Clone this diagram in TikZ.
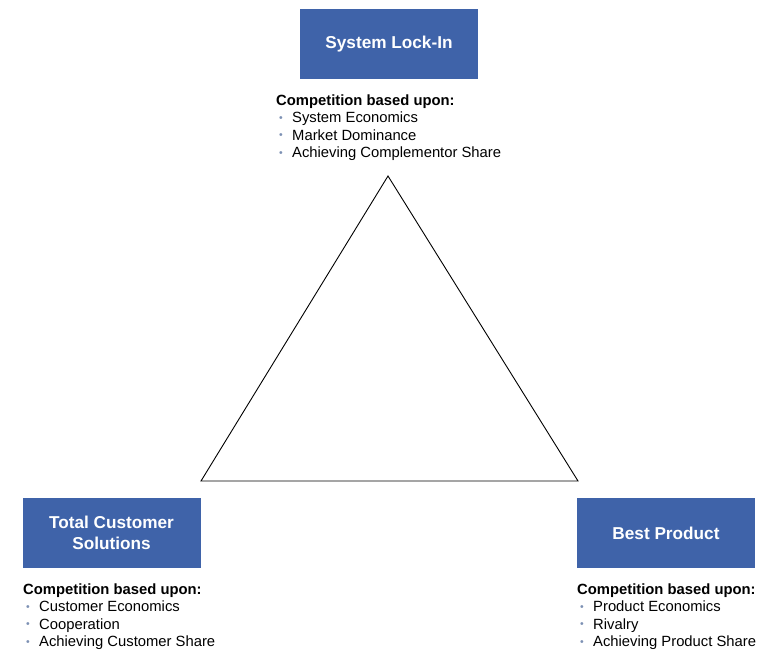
\documentclass[tikz,border=0pt]{standalone}
\usepackage{fontspec}
\setmainfont{Liberation Sans}
\usepackage{xcolor}
\definecolor{boxblue}{RGB}{63,99,169}
\definecolor{bulletc}{RGB}{125,145,180}
\begin{document}
\begin{tikzpicture}[x=1pt,y=-1pt,
  catbox/.style={fill=boxblue, draw=none, minimum width=178pt, minimum height=70pt, inner sep=0pt,
    text=white, font=\fontsize{17.2}{21}\selectfont\bfseries, align=center},
  headline/.style={anchor=base west, inner sep=0pt, font=\fontsize{14.8}{17}\selectfont\bfseries},
  itemline/.style={anchor=base west, inner sep=0pt, font=\fontsize{14.8}{17}\selectfont},
]
\useasboundingbox (0,0) rectangle (764,651);
\newcommand{\bul}{\hspace*{3pt}\makebox[13pt][l]{\textcolor{bulletc}{\fontsize{10.5}{10}\selectfont\raisebox{1.2pt}{•}}}}
% boxes
\node[catbox] (lock) at (389,44) {System Lock-In};
\node[catbox] (total) at (111.5,532.5) {Total Customer\\Solutions};
\node[catbox] (best) at (666,533) {Best Product};
% triangle
\coordinate (apex) at (388,176);
\coordinate (bl) at (201,481);
\coordinate (br) at (578,481);
\draw[line width=0.9pt] (apex) -- (bl) -- (br) -- cycle;
% top text
\node[headline] (lockh) at (276,105) {Competition based upon:};
\node[itemline] (lock1) at (276,122.5) {\bul System Economics};
\node[itemline] (lock2) at (276,140) {\bul Market Dominance};
\node[itemline] (lock3) at (276,157.5) {\bul Achieving Complementor Share};
% bottom left
\node[headline] (totalh) at (23,594) {Competition based upon:};
\node[itemline] (total1) at (23,611.5) {\bul Customer Economics};
\node[itemline] (total2) at (23,629) {\bul Cooperation};
\node[itemline] (total3) at (23,646.5) {\bul Achieving Customer Share};
% bottom right
\node[headline] (besth) at (577,594) {Competition based upon:};
\node[itemline] (best1) at (577,611.5) {\bul Product Economics};
\node[itemline] (best2) at (577,629) {\bul Rivalry};
\node[itemline] (best3) at (577,646.5) {\bul Achieving Product Share};
\end{tikzpicture}
\end{document}
